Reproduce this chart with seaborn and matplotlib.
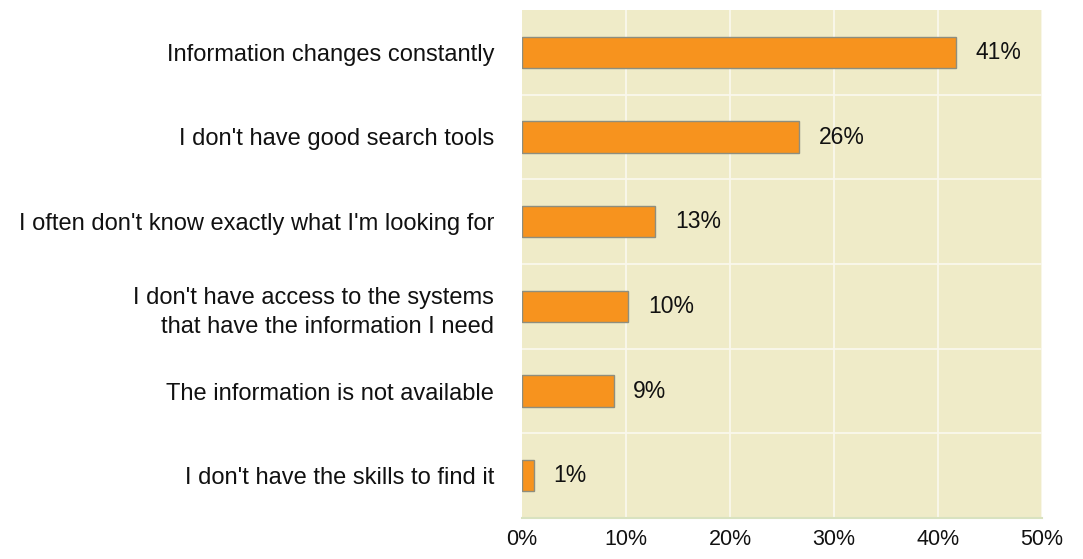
import matplotlib
matplotlib.use("Agg")
import matplotlib.pyplot as plt
import seaborn as sns
import pandas as pd

categories = [
    "Information changes constantly",
    "I don't have good search tools",
    "I often don't know exactly what I'm looking for",
    "I don't have access to the systems\nthat have the information I need",
    "The information is not available",
    "I don't have the skills to find it",
]
values = [41.7, 26.6, 12.8, 10.2, 8.8, 1.15]
labels = ["41%", "26%", "13%", "10%", "9%", "1%"]
xticks = [0, 10, 20, 30, 40, 50]
xticklabels = ["0%", "10%", "20%", "30%", "40%", "50%"]

sns.set_theme(style="white")
plt.rcParams['font.family'] = ['Liberation Sans', 'DejaVu Sans']
plt.rcParams['text.color'] = '#111111'
plt.rcParams['xtick.color'] = '#F4B4B4'
plt.rcParams['xtick.labelcolor'] = '#111111'
plt.rcParams['ytick.labelcolor'] = '#111111'

df = pd.DataFrame({"cat": categories, "val": values})

fig = plt.figure(figsize=(10.83, 5.59), dpi=100)
ax = fig.add_axes([522/1083, 1-518/559, 520/1083, 508/559])
ax.set_facecolor("#EFEBC8")

sns.barplot(data=df, y="cat", x="val", orient="h", color="#F7931E",
            edgecolor="#8E8E7E", linewidth=1.0, width=0.37, saturation=1, ax=ax)

ax.set_xlim(0, 50)
ax.set_ylim(5.5, -0.5)
ax.set_xticks(xticks)
ax.set_xticklabels(xticklabels, fontsize=15.5)
ax.set_xlabel("")
ax.set_ylabel("")
ax.tick_params(axis="y", length=0, pad=20, labelsize=17)
ax.tick_params(axis="x", length=5, color="#F4B4B4", width=1, direction="out", pad=3)
for lab in ax.get_yticklabels():
    lab.set_horizontalalignment("right")
    lab.set_multialignment("right")
    lab.set_linespacing(1.45)

for x in xticks[1:]:
    ax.axvline(x, color="#FAF8EC", lw=1.3, zorder=0.5)
for y in [0.5, 1.5, 2.5, 3.5, 4.5]:
    ax.axhline(y, color="#FAF8EC", lw=1.3, zorder=0.5)

for i, (v, l) in enumerate(zip(values, labels)):
    ax.text(v + 1.9, i, l, va="center", ha="left", fontsize=16.5, color="#111111")

for s in ["top", "right", "left"]:
    ax.spines[s].set_visible(False)
ax.spines["bottom"].set_color("#D8E2C0")
ax.spines["bottom"].set_linewidth(1.5)

fig.savefig("out.png", dpi=100)
